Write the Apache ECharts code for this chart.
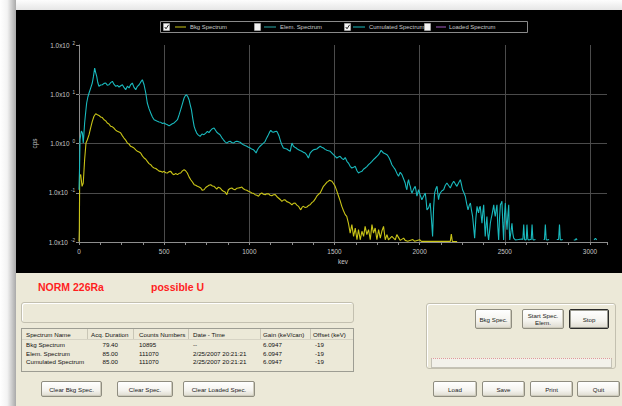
<!DOCTYPE html>
<html><head><meta charset="utf-8">
<script src="https://cdn.jsdelivr.net/npm/echarts@6/dist/echarts.min.js"></script>
<style>
html,body{margin:0;padding:0}
body{width:622px;height:406px;overflow:hidden;position:relative;background:#fff;font-family:"Liberation Sans",Arial,sans-serif}
#topstrip{position:absolute;left:0;top:0;width:622px;height:10px;background:linear-gradient(#fdfdfd,#e6e6e6)}
#leftstrip{position:absolute;left:0;top:0;width:16px;height:406px;background:linear-gradient(to right,#ffffff 0%,#f3f3f3 45%,#a9a9a9 100%)}
#chart{position:absolute;left:16px;top:10px;width:606px;height:263px;background:#000}
#panel{position:absolute;left:16px;top:273px;width:606px;height:133px;background:#ece9d8}
.abs{position:absolute}
.big{position:absolute;color:#ff1e1e;font-weight:bold;font-size:10.5px;line-height:12px}
.gbox{position:absolute;box-sizing:border-box;border:1px solid #c3c0b0;border-radius:3px;box-shadow:inset 1px 1px 0 #fff}
.list{position:absolute;box-sizing:border-box;border:1px solid #9d9d93;background:#ece9d8}
.cell{position:absolute;font-size:6.2px;line-height:8px;color:#111;white-space:nowrap}
.sep{position:absolute;width:1px;background:#c9c6b6}
.btn{position:absolute;box-sizing:border-box;border:1px solid #8f8d80;border-radius:2px;background:linear-gradient(#ffffff,#f4f3ee 60%,#dedbcf);font-size:6.2px;line-height:7px;color:#222;display:flex;align-items:center;justify-content:center;text-align:center;box-shadow:inset -1px -1px 0 #cfccbd}
.btn.def{border:1px solid #2a2a2a;box-shadow:inset 0 0 0 1px #9a9a90}
#prog{position:absolute;box-sizing:border-box;left:431px;top:358px;width:181px;height:10px;border:1px solid #c4c2b6;border-top:1px dotted #e09a9a;background:#f2f1ea}
</style></head>
<body>
<div id="topstrip"></div>
<div id="leftstrip"></div>
<div id="chart"></div>
<div id="panel"></div>
<div id="ui"></div>
<script>
// ---------- data ----------
const seriesNames = ['Bkg Spectrum', 'Elem. Spectrum', 'Cumulated Spectrum', 'Loaded Spectrum'];
const seriesChecked = [true, false, true, false];
const xTickValues = [0, 500, 1000, 1500, 2000, 2500, 3000];
const yTickExponents = [-2, -1, 0, 1, 2];

const bkgKeV = [0,2,4,10,18,25,33,41,49,59,68,78,88,98,108,117,127,137,147,157,166,176,186,196,205,215,225,235,245,255,264,274,284,294,303,313,323,333,343,353,362,372,382,392,401,411,421,431,441,451,460,470,480,490,499,509,519,529,539,548,558,568,578,588,597,607,617,626,636,646,656,666,676,685,695,705,715,724,734,744,754,763,773,783,793,809,818,828,838,848,858,868,877,887,897,907,916,926,936,946,956,965,975,985,995,1005,1014,1024,1034,1044,1054,1063,1073,1083,1093,1102,1112,1122,1132,1142,1152,1161,1171,1181,1191,1200,1210,1220,1230,1240,1250,1259,1269,1279,1289,1296,1302,1310,1318,1328,1338,1347,1357,1367,1377,1386,1396,1406,1416,1426,1435,1445,1455,1463,1471,1478,1485,1494,1504,1514,1524,1533,1543,1553,1563,1572,1582,1592,1602,1612,1622,1632,1641,1651,1661,1671,1680,1690,1700,1710,1720,1729,1739,1749,1759,1769,1778,1788,1798,1808,1817,1837,1857,1866,1886,1906,1915,1930,1960,1970,2000,2010,2180,2186,2192,2220];
const bkgCps = [0.0102,0.018,0.216,0.233,0.135,0.158,0.469,1.02,1.19,1.51,2.06,2.82,3.57,4.03,3.85,3.72,3.45,3.36,3.04,2.88,2.61,2.49,2.23,2.18,2.06,1.87,1.77,1.72,1.63,1.43,1.29,1.17,1.02,0.97,0.877,0.85,0.81,0.74,0.694,0.67,0.641,0.56,0.508,0.48,0.435,0.39,0.371,0.335,0.318,0.31,0.294,0.275,0.272,0.262,0.272,0.255,0.252,0.268,0.272,0.244,0.233,0.245,0.233,0.248,0.252,0.278,0.294,0.28,0.252,0.21,0.184,0.165,0.146,0.142,0.135,0.131,0.125,0.112,0.115,0.128,0.135,0.142,0.146,0.137,0.135,0.119,0.13,0.125,0.114,0.107,0.103,0.0914,0.115,0.122,0.125,0.118,0.115,0.123,0.125,0.127,0.131,0.12,0.115,0.112,0.107,0.104,0.099,0.097,0.0914,0.089,0.085,0.094,0.099,0.093,0.0914,0.095,0.0957,0.089,0.0872,0.091,0.0914,0.084,0.0782,0.073,0.067,0.071,0.072,0.066,0.064,0.061,0.057,0.061,0.062,0.056,0.053,0.048,0.045,0.051,0.053,0.05,0.0514,0.055,0.057,0.063,0.067,0.074,0.085,0.093,0.099,0.117,0.135,0.148,0.163,0.17,0.179,0.175,0.171,0.154,0.135,0.108,0.085,0.069,0.053,0.043,0.036,0.033,0.024,0.0152,0.0225,0.013,0.0192,0.0111,0.0178,0.0111,0.0165,0.013,0.0208,0.0141,0.0178,0.0111,0.0225,0.0152,0.0192,0.0111,0.0178,0.012,0.0165,0.0208,0.0111,0.0141,0.0111,0.013,0.0111,0.0141,0.0108,0.012,0.0108,0.0104,0.0112,0.0104,0.0111,0.0103,0.0103,0.0145,0.0103,0.0102];

const cumKeV = [0,3,6,10,14,20,25,29,33,39,45,52,59,68,78,85,92,98,104,110,117,127,137,147,157,166,176,186,196,206,216,226,235,245,255,265,274,284,294,303,313,323,333,343,353,363,372,382,392,401,411,421,431,441,451,460,470,480,490,499,509,519,529,539,548,558,568,578,588,597,607,617,624,631,639,646,653,660,668,676,684,691,701,711,722,734,744,754,763,773,783,793,809,818,828,838,848,858,868,877,887,897,907,916,926,936,946,956,965,975,985,995,1005,1014,1024,1032,1040,1047,1054,1063,1073,1083,1093,1102,1112,1119,1126,1134,1142,1152,1161,1168,1175,1183,1191,1200,1210,1220,1230,1240,1250,1259,1267,1275,1282,1289,1298,1308,1318,1328,1338,1347,1357,1367,1377,1386,1396,1406,1416,1425,1435,1445,1455,1465,1475,1485,1494,1504,1514,1523,1533,1543,1553,1563,1573,1582,1592,1602,1612,1622,1632,1641,1651,1661,1670,1680,1690,1700,1710,1720,1729,1739,1749,1759,1767,1774,1781,1788,1798,1808,1815,1821,1829,1837,1847,1857,1866,1876,1886,1896,1906,1915,1920,1925,1930,1935,1940,1945,1950,1955,1965,1974,1979,1984,1989,1994,2003,2013,2023,2033,2038,2043,2053,2062,2069,2076,2082,2088,2095,2102,2106,2111,2116,2121,2131,2141,2150,2160,2170,2180,2190,2200,2210,2219,2229,2239,2245,2252,2260,2268,2276,2284,2291,2298,2304,2311,2317,2323,2330,2337,2341,2346,2351,2356,2361,2366,2371,2376,2380,2385,2390,2395,2400,2405,2410,2415,2420,2425,2430,2435,2440,2444,2449,2454,2459,2464,2469,2474,2479,2483,2488,2493,2498,2503,2508,2513,2518,2523,2526,2529,2536,2542,2547,2552,2562,2580,2600,2606,2611,2616,2621,2626,2630,2635,2640,2650,2655,2660,2665,2670,2680,2690,2728,2733,2738,2743,2748,2760,2770,2805,2816,2821,2826,2830,2840,2850,2905,2914,2919,2924,2930,3024,3032,3040];
const cumCps = [0.115,0.294,1.19,1.5,1.79,1.63,1.02,1.6,2.61,4.2,6.64,8.8,10.6,13.2,16.9,23,34.1,27.5,23.1,17.5,14.5,15.4,15.6,16.6,16.9,15.2,15.6,17.2,18.3,15.8,14.5,15.1,14.0,14.9,15.6,13.6,12.4,14.6,13.4,15.6,16.9,13.8,12.4,14.5,15.6,17.8,19.7,15.6,10.6,6.64,5.1,4.16,3.45,3.04,2.92,2.82,2.74,2.69,2.55,2.61,2.48,2.41,2.28,2.41,2.52,2.61,2.82,3.04,3.85,4.86,6.4,8.39,9.3,9.8,8.9,7.75,6.1,4.86,3.2,2.23,1.85,1.63,1.48,1.40,1.56,1.51,1.62,1.77,1.66,1.85,2.0,2.06,1.69,1.6,1.51,1.32,1.19,1.08,1.02,1.08,1.11,1.05,1.02,1.08,1.11,1.09,1.06,0.99,0.946,0.91,0.877,0.84,0.81,0.77,0.748,0.7,0.641,0.74,0.81,0.88,0.946,1.02,1.11,1.3,1.51,1.7,1.85,1.72,1.69,1.75,1.77,1.6,1.40,1.12,0.946,0.81,0.79,0.773,0.73,0.694,1.02,0.877,0.84,0.81,0.77,0.748,0.72,0.694,0.66,0.641,0.58,0.508,0.641,0.7,0.748,0.76,0.773,0.83,0.877,0.84,0.81,0.76,0.728,0.71,0.694,0.64,0.593,0.55,0.508,0.53,0.549,0.5,0.469,0.52,0.435,0.4,0.344,0.318,0.33,0.344,0.28,0.252,0.265,0.272,0.3,0.318,0.34,0.371,0.4,0.435,0.47,0.508,0.55,0.593,0.66,0.728,0.68,0.641,0.62,0.593,0.55,0.508,0.44,0.371,0.33,0.294,0.25,0.216,0.26,0.233,0.19,0.158,0.13,0.115,0.16,0.184,0.15,0.135,0.11,0.099,0.12,0.135,0.11,0.085,0.1,0.115,0.09,0.072,0.085,0.099,0.07,0.045,0.05,0.062,0.03,0.013,0.05,0.099,0.12,0.135,0.1,0.072,0.09,0.099,0.11,0.115,0.14,0.158,0.14,0.125,0.15,0.171,0.15,0.135,0.16,0.184,0.15,0.115,0.1,0.085,0.06,0.045,0.055,0.062,0.045,0.033,0.02,0.012,0.03,0.053,0.045,0.039,0.05,0.053,0.035,0.024,0.04,0.057,0.03,0.013,0.022,0.033,0.015,0.011,0.016,0.024,0.03,0.036,0.045,0.057,0.04,0.033,0.045,0.057,0.02,0.011,0.03,0.057,0.062,0.067,0.025,0.011,0.035,0.062,0.03,0.0178,0.035,0.057,0.02,0.011,0.016,0.024,0.015,0.012,0.011,0.0112,0.0115,0.0112,0.0225,0.0112,0.011,0.0112,0.0225,0.0115,0.011,0.0112,0.0113,0.0225,0.0112,0.011,0.0112,null,0.0112,0.0113,0.0225,0.0112,0.011,0.0112,null,0.0112,0.0113,0.0225,0.0112,0.011,0.0112,null,0.011,0.011,0.0118,0.011,null,0.011,0.0118,0.011];

const tableHeaders = ['Spectrum Name', 'Acq. Duration', 'Counts Numbers', 'Date - Time', 'Gain (keV/can)', 'Offset (keV)'];
const tableNames = ['Bkg Spectrum', 'Elem. Spectrum', 'Cumulated Spectrum'];
const tableDurations = ['79.40', '85.00', '85.00'];
const tableCounts = ['10895', '111070', '111070'];
const tableDates = ['--', '2/25/2007 20:21:21', '2/25/2007 20:21:21'];
const tableGains = ['6.0947', '6.0947', '6.0947'];
const tableOffsets = ['-19', '-19', '-19'];
const statusTexts = ['NORM 226Ra', 'possible U'];
const leftButtons = ['Clear Bkg Spec.', 'Clear Spec.', 'Clear Loaded Spec.'];
const rightButtons = ['Load', 'Save', 'Print', 'Quit'];
const acqButtons = ['Bkg Spec.', 'Start Spec.<br>Elem.', 'Stop'];

// ---------- styles ----------
const colors = ['#c9c417', '#2aa8a8', '#19b9bd', '#a05cc0'];
const FONT = '"Liberation Sans", Arial, sans-serif';
const txtColor = '#c9c9c9';

// ---------- chart ----------
const chart = echarts.init(document.getElementById('chart'), null, {renderer: 'svg', width: 606, height: 263});
const zip = (a, b) => a.map((x, i) => [x, b[i]]);

const legendX = [147, 238, 328, 408];
const legendLine = [[159, 170], [248, 260], [337, 349], [420, 430]];
const legendText = [174, 264, 353, 433];
const graphic = [{type: 'rect', shape: {x: 144.5, y: 11.5, width: 367, height: 11}, style: {fill: '#000', stroke: '#8a8a8a', lineWidth: 1}, z: 10}];
seriesNames.forEach((n, i) => {
  graphic.push({type: 'rect', shape: {x: legendX[i] + 0.5, y: 13.5, width: 6, height: 7}, style: {fill: '#f4f4f4', stroke: '#bbbbbb', lineWidth: 0.6}, z: 11});
  if (seriesChecked[i]) {
    graphic.push({type: 'polyline', shape: {points: [[legendX[i] + 1.8, 17], [legendX[i] + 3, 18.8], [legendX[i] + 5.6, 14.8]]}, style: {stroke: '#222', lineWidth: 1, fill: null}, z: 12});
  }
  graphic.push({type: 'line', shape: {x1: legendLine[i][0], y1: 17, x2: legendLine[i][1], y2: 17}, style: {stroke: colors[i], lineWidth: 1}, z: 11});
  graphic.push({type: 'text', x: legendText[i], y: 17, style: {text: n, fill: txtColor, font: '5.9px ' + FONT, textVerticalAlign: 'middle', textAlign: 'left'}, z: 11});
});

const gridMarks = [];
xTickValues.filter(v => v > 0).forEach(v => gridMarks.push({xAxis: v}));
yTickExponents.filter(e => e > -2 && e < 2).forEach(e => gridMarks.push({yAxis: Math.pow(10, e)}));

chart.setOption({
  backgroundColor: '#000',
  animation: false,
  grid: {left: 63, top: 35, right: 15, bottom: 31},
  xAxis: {
    type: 'value', min: 0, max: 3100, interval: 125,
    name: 'kev', nameLocation: 'middle', nameGap: 13,
    nameTextStyle: {color: txtColor, fontSize: 6.4, fontFamily: FONT},
    axisLine: {lineStyle: {color: '#8e8e8e', width: 1}},
    axisTick: {length: 3, lineStyle: {color: '#8e8e8e'}},
    axisLabel: {color: txtColor, fontSize: 6.4, fontFamily: FONT, margin: 6,
      formatter: v => xTickValues.indexOf(v) >= 0 ? String(v) : ''},
    splitLine: {show: false}
  },
  yAxis: {
    type: 'log', logBase: 10, min: 0.01, max: 100, splitNumber: 4,
    name: 'cps', nameLocation: 'middle', nameGap: 34,
    nameTextStyle: {color: txtColor, fontSize: 6.4, fontFamily: FONT},
    axisLine: {show: true, lineStyle: {color: '#8e8e8e', width: 1}},
    axisTick: {show: true, length: 3, lineStyle: {color: '#8e8e8e'}},
    axisLabel: {margin: 4, formatter: v => {
        const e = Math.round(Math.log10(v));
        return '{m|1.0x10}{e|' + e + '}';
      },
      rich: {
        m: {fontSize: 6.4, color: txtColor, fontFamily: FONT, lineHeight: 9},
        e: {fontSize: 4.6, color: txtColor, fontFamily: FONT, verticalAlign: 'top', padding: [0, 0, 0, 3]}
      }
    },
    splitLine: {show: false}
  },
  series: [
    {name: seriesNames[0], type: 'line', data: zip(bkgKeV, bkgCps), showSymbol: false, symbol: 'none',
      lineStyle: {color: colors[0], width: 1.1}, itemStyle: {color: colors[0]}, z: 3},
    {name: seriesNames[1], type: 'line', data: [], symbol: 'none', lineStyle: {color: colors[1]}},
    {name: seriesNames[2], type: 'line', data: zip(cumKeV, cumCps), showSymbol: false, symbol: 'none', connectNulls: false,
      lineStyle: {color: colors[2], width: 1.1}, itemStyle: {color: colors[2]}, z: 3,
      markLine: {silent: true, symbol: 'none', z: 1, label: {show: false},
        lineStyle: {color: '#4b4b4b', width: 1, type: 'solid'}, emphasis: {disabled: true}, data: gridMarks}},
    {name: seriesNames[3], type: 'line', data: [], symbol: 'none', lineStyle: {color: colors[3]}}
  ],
  graphic: graphic
});

// ---------- windows panel ----------
const ui = document.getElementById('ui');
function add(cls, css, html) {
  const d = document.createElement('div');
  d.className = cls; d.style.cssText = css; d.innerHTML = html || '';
  ui.appendChild(d); return d;
}
const statusX = [38, 151];
statusTexts.forEach((t, i) => add('big', `left:${statusX[i]}px;top:281px;`, t));
add('gbox', 'left:21px;top:302px;width:333px;height:21px;');
add('list', 'left:21px;top:328px;width:333px;height:44px;');
const headX = [26, 91, 139, 193, 263, 313];
const sepX = [87, 133, 188, 260, 310];
tableHeaders.forEach((t, i) => add('cell', `left:${headX[i]}px;top:331px;`, t));
sepX.forEach(x => add('sep', `left:${x}px;top:329px;height:10px;`));
add('abs', 'left:22px;top:339px;width:331px;height:1px;background:#d6d3c4');
const rowY = [341, 349.5, 358];
tableNames.forEach((t, r) => {
  add('cell', `left:26px;top:${rowY[r]}px;`, t);
  add('cell', `left:90px;width:28px;text-align:right;top:${rowY[r]}px;`, tableDurations[r]);
  add('cell', `left:139px;top:${rowY[r]}px;`, tableCounts[r]);
  add('cell', `left:193px;top:${rowY[r]}px;`, tableDates[r]);
  add('cell', `left:263px;top:${rowY[r]}px;`, tableGains[r]);
  add('cell', `left:315px;top:${rowY[r]}px;`, tableOffsets[r]);
});
const lbX = [[41, 102], [117, 173], [183, 255]];
leftButtons.forEach((t, i) => add('btn', `left:${lbX[i][0]}px;top:381px;width:${lbX[i][1] - lbX[i][0]}px;height:16px;`, t));
add('gbox', 'left:426px;top:303px;width:190px;height:66px;');
const abX = [[475, 512], [522, 564], [569, 609]];
acqButtons.forEach((t, i) => add('btn' + (i === 2 ? ' def' : ''), `left:${abX[i][0]}px;top:309px;width:${abX[i][1] - abX[i][0]}px;height:20px;`, t));
const p = document.createElement('div'); p.id = 'prog'; ui.appendChild(p);
const rbX = [[433, 477], [482, 525], [530, 573], [577, 620]];
rightButtons.forEach((t, i) => add('btn', `left:${rbX[i][0]}px;top:381px;width:${rbX[i][1] - rbX[i][0]}px;height:16px;`, t));
</script>
</body></html>
